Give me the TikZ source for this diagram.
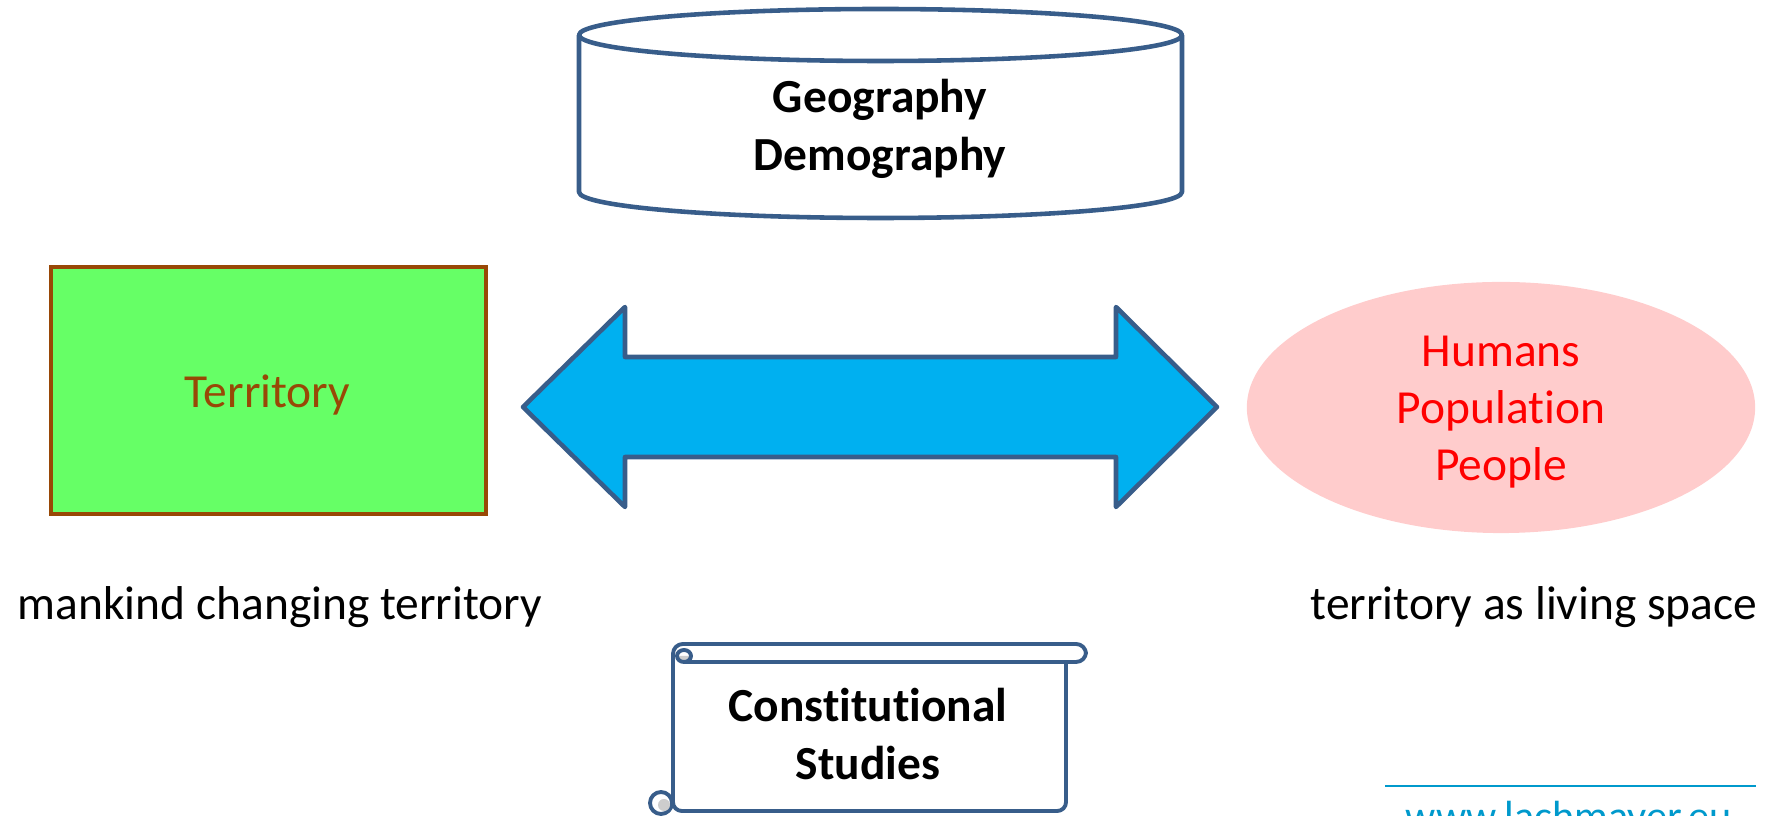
\documentclass[tikz,border=0pt]{standalone}
\usepackage{fontspec}
\setmainfont{Carlito}[Ligatures = NoCommon]
\usetikzlibrary{shapes.geometric}
\begin{document}
\begin{tikzpicture}[x = 0.01cm, y = -0.01cm,
  outline/.style = {draw = framecolor, line width = 1.3pt, line join = round},
  scrollline/.style = {draw = framecolor, line width = 1.1pt, line join = round},
  plaintext/.style = {inner sep = 0pt, align = center, font = \fontsize{13.5}{16.3}\selectfont},
  boldtext/.style = {plaintext, font = \fontsize{13.5}{16.3}\selectfont\bfseries}]
\definecolor{framecolor}{RGB}{56,93,138}
\definecolor{arrowfill}{RGB}{0,176,240}
\definecolor{greenfill}{RGB}{102,255,102}
\definecolor{brownline}{RGB}{152,72,6}
\definecolor{pinkfill}{RGB}{255,204,204}
\definecolor{rollshade}{RGB}{205,205,205}
\definecolor{urlcolor}{RGB}{0,153,204}
\path[use as bounding box, clip] (0,0) rectangle (1771,816);
\draw[outline, fill = white] (579,35) -- (579,192) arc[start angle = 180, end angle = 0, x radius = 301.5, y radius = 26] -- (1182,35);
\draw[outline, fill = white] (880.5,35) ellipse [x radius = 301.5, y radius = 26];
\node[boldtext] (geo) at (880,129) {Geography\\Demography};
\node[draw = brownline, fill = greenfill, line width = 1.3pt, minimum width = 4.35cm, minimum height = 2.47cm] (terrbox) at (268.5,390.5) {};
\node[plaintext, text = brownline] (terr) at (267.5,395.5) {Territory};
\draw[outline, fill = arrowfill] (523,407) -- (625,307) -- (625,357) -- (1116,357) -- (1116,307) -- (1217,407) -- (1116,507) -- (1116,457) -- (625,457) -- (625,507) -- cycle;
\node[ellipse, fill = pinkfill, inner sep = 0pt, minimum width = 5.08cm, minimum height = 2.51cm] (popshape) at (1501,407.5) {};
\node[plaintext, text = red] (pop) at (1501,412) {Humans\\Population\\People};
\node[plaintext, anchor = base west] (leftcap) at (17,620) {mankind changing territory};
\node[plaintext, anchor = base east] (rightcap) at (1758,620) {territory as living space};
\draw[scrollline, fill = white, rounded corners = 2.5pt] (1066,662) -- (1066,811) -- (673,811) -- (673,653);
\draw[scrollline, fill = white, rounded corners = 2.8pt] (673,800) -- (673,644) -- (1086,644) -- (1086,662) -- (684,662);
\fill[rollshade] (677,656) arc[start angle = 180, end angle = 0, x radius = 7, y radius = 6] -- cycle;
\draw[scrollline] (684,656) circle [x radius = 7, y radius = 6];
\draw[scrollline, fill = white] (661,803) circle [x radius = 11, y radius = 11];
\fill[rollshade] (664,805) circle [x radius = 6, y radius = 6];
\node[boldtext] (const) at (868,734) {Constitutional\\Studies};
\draw[urlcolor, line width = 0.8pt] (1385,786) -- (1756,786);
\node[anchor = base west, inner sep = 0pt, text = urlcolor, font = \fontsize{12}{14}\selectfont] (url) at (1405,831) {www.lachmayer.eu};
\end{tikzpicture}
\end{document}
